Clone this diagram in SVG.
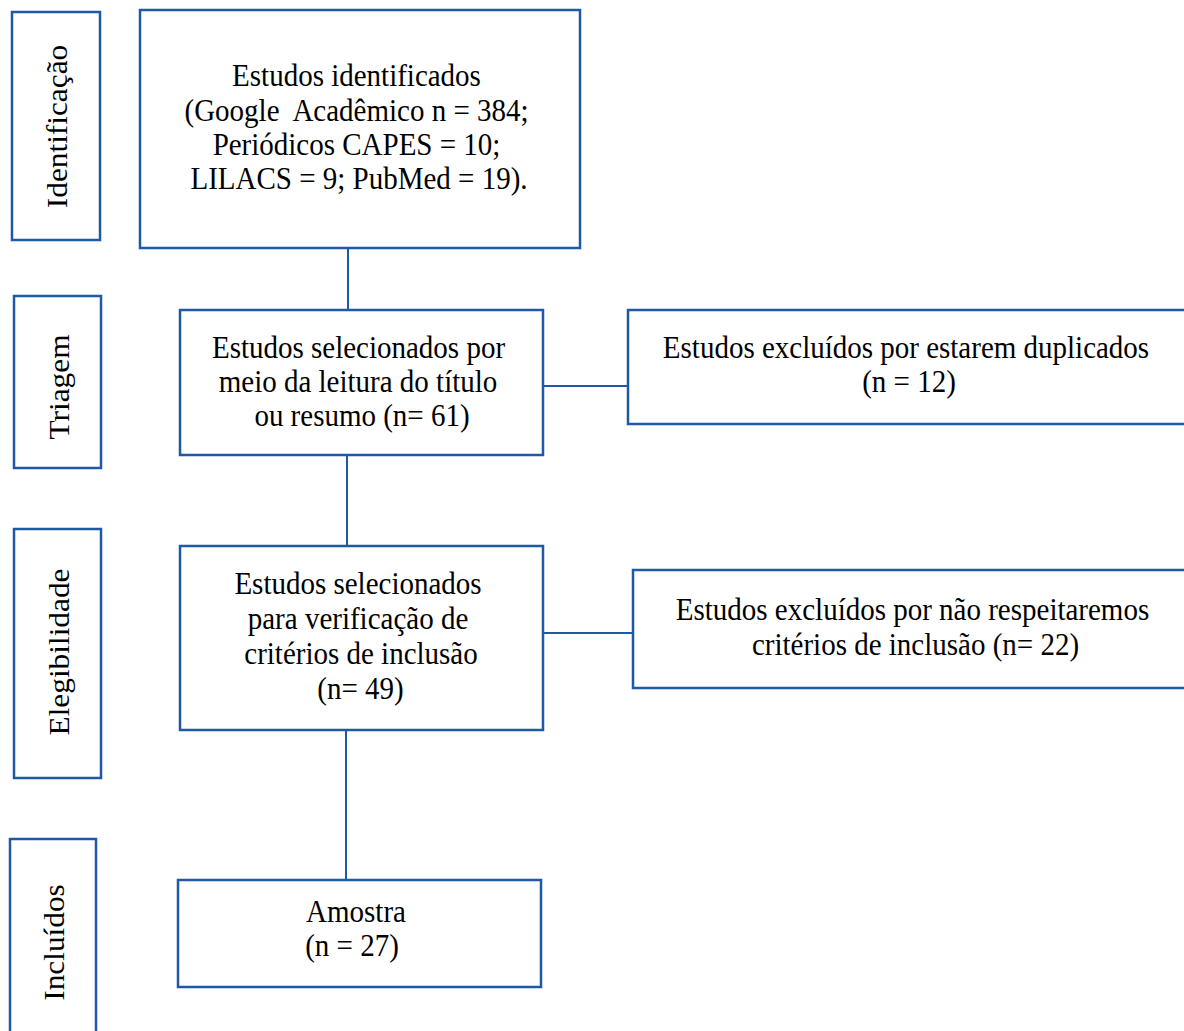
<svg xmlns="http://www.w3.org/2000/svg" width="1184" height="1031" viewBox="0 0 1184 1031">
<style>
.b{fill:#fff;stroke:#1f58a6;stroke-width:2.5}
.c{fill:none;stroke:#1f58a6;stroke-width:2}
text{font-family:"Liberation Serif","Times New Roman",serif;font-size:29px;fill:#000;text-anchor:middle}
.pre{white-space:pre}
</style>
<rect width="1184" height="1031" fill="#fff"/>
<g id="connectors">
<line class="c" x1="348" y1="248" x2="348" y2="310"/>
<line class="c" x1="347" y1="455" x2="347" y2="546"/>
<line class="c" x1="346" y1="730" x2="346" y2="880"/>
<line class="c" x1="543" y1="386" x2="628" y2="386"/>
<line class="c" x1="543" y1="633" x2="633" y2="633"/>
</g>
<g id="lbl-identificacao">
<rect class="b" x="12" y="12" width="88" height="228"/>
<text transform="translate(67,126.5) scale(1,1.08) rotate(-90)">Identificação</text>
</g>
<g id="lbl-triagem">
<rect class="b" x="14" y="296" width="87" height="172"/>
<text transform="translate(69,387) scale(1,1.08) rotate(-90)">Triagem</text>
</g>
<g id="lbl-elegibilidade">
<rect class="b" x="14" y="529" width="87" height="249"/>
<text transform="translate(69,652) scale(1,1.08) rotate(-90)">Elegibilidade</text>
</g>
<g id="lbl-incluidos">
<rect class="b" x="10" y="839" width="86" height="200"/>
<text transform="translate(64,942.5) scale(1,1.08) rotate(-90)">Incluídos</text>
</g>
<g id="n1">
<rect class="b" x="140" y="10" width="440" height="238"/>
<text transform="translate(356.5,86) scale(1,1.08)">Estudos identificados</text>
<text class="pre" xml:space="preserve" transform="translate(356.5,121) scale(1,1.08)">(Google  Acadêmico n = 384;</text>
<text transform="translate(356.5,155) scale(1,1.08)">Periódicos CAPES = 10;</text>
<text transform="translate(359,189) scale(1,1.08)">LILACS = 9; PubMed = 19).</text>
</g>
<g id="n2">
<rect class="b" x="180" y="310" width="363" height="145"/>
<text transform="translate(358.5,358) scale(1,1.08)">Estudos selecionados por</text>
<text transform="translate(358,392) scale(1,1.08)">meio da leitura do título</text>
<text transform="translate(362,426) scale(1,1.08)">ou resumo (n= 61)</text>
</g>
<g id="n3">
<rect class="b" x="628" y="310" width="570" height="114"/>
<text transform="translate(906,358) scale(1,1.08)">Estudos excluídos por estarem duplicados</text>
<text transform="translate(909,392) scale(1,1.08)">(n = 12)</text>
</g>
<g id="n4">
<rect class="b" x="180" y="546" width="363" height="184"/>
<text transform="translate(358,594) scale(1,1.08)">Estudos selecionados</text>
<text transform="translate(358,629) scale(1,1.08)">para verificação de</text>
<text transform="translate(361,664) scale(1,1.08)">critérios de inclusão</text>
<text transform="translate(360.5,699) scale(1,1.08)">(n= 49)</text>
</g>
<g id="n5">
<rect class="b" x="633" y="570" width="565" height="118"/>
<text transform="translate(912.5,620) scale(1,1.08)">Estudos excluídos por não respeitaremos</text>
<text transform="translate(915.5,655) scale(1,1.08)">critérios de inclusão (n= 22)</text>
</g>
<g id="n6">
<rect class="b" x="178" y="880" width="363" height="107"/>
<text transform="translate(356,922) scale(1,1.08)">Amostra</text>
<text transform="translate(352,956) scale(1,1.08)">(n = 27)</text>
</g>
</svg>
